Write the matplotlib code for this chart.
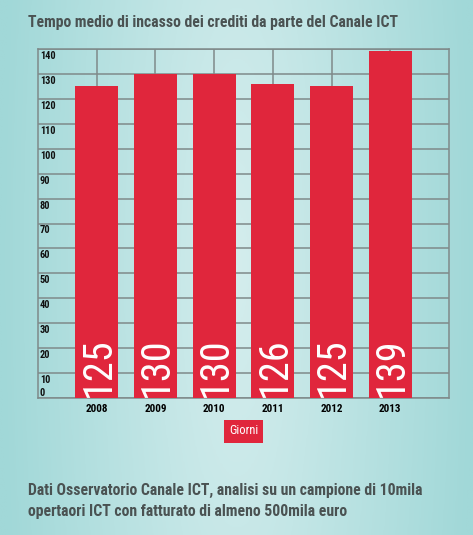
import numpy as np
import matplotlib
matplotlib.use("Agg")
import matplotlib.pyplot as plt
from matplotlib.colors import LinearSegmentedColormap

years = ["2008", "2009", "2010", "2011", "2012", "2013"]
giorni = [125, 130, 130, 126, 125, 139]
grid_values = list(range(0, 150, 10))
tick_labels = [str(v) for v in grid_values]

title = "Tempo medio di incasso dei crediti da parte del Canale ICT"
footer = ("Dati Osservatorio Canale ICT, analisi su un campione di 10mila\n"
          "opertaori ICT con fatturato di almeno 500mila euro")

cond = ["Roboto Condensed", "Liberation Sans Narrow", "DejaVu Sans"]

W, H = 473, 535
fig = plt.figure(figsize=(W / 100, H / 100), dpi=100)

# background gradient, light in the middle, teal at the sides
bg = fig.add_axes([0, 0, 1, 1])
bg.set_axis_off()
xx = np.linspace(-1, 1, 400)
yy = np.linspace(-1, 1, 400)
X, Y = np.meshgrid(xx, yy)
r = np.sqrt(X**2 + 0.06 * Y**2)
cmap = LinearSegmentedColormap.from_list("bg", ["#d4eded", "#a1d8d8"])
bg.imshow(r, cmap=cmap, aspect="auto", extent=[0, 1, 0, 1], vmin=0, vmax=1.0)
bg.set_xlim(0, 1)
bg.set_ylim(0, 1)

# chart axes: x 38..449 px, y 49..398 px
ax = fig.add_axes([38 / W, 1 - 398 / H, (449 - 38) / W, (398 - 49) / H])
ax.patch.set_alpha(0)
x = np.arange(len(years))
ax.bar(x, giorni, width=0.73, color="#e0263c", zorder=3)
ax.set_xlim(-1, 6)
ax.set_ylim(0, 140)

ax.set_yticks(grid_values)
ax.set_yticklabels([])
ax.set_xticks(x)
ax.set_xticklabels(years, fontfamily=cond, fontweight="bold", fontsize=8)
ax.tick_params(axis="both", length=0)
ax.tick_params(axis="x", pad=4)
ax.grid(True, color="#7f8a8a", linewidth=1.1, zorder=0)
for s in ax.spines.values():
    s.set_color("#7f8a8a")
    s.set_linewidth(1.1)

# y labels sit inside the bands just below each gridline
for v, lab in zip(grid_values, tick_labels):
    yl = v - 2.8 if v > 0 else 2.0
    ax.text(-0.97, yl, lab, ha="left", va="center", fontsize=7.5,
            fontfamily=cond, fontweight="bold", color="#111111", zorder=4)

# values written vertically at the foot of the bars
for xi, v in zip(x, giorni):
    ax.text(xi + 0.02, 0.6, str(v), rotation=90, ha="center", va="bottom",
            color="white", fontsize=29, fontfamily=cond, fontweight="normal",
            zorder=5)

fig.text(28 / W, 1 - 22 / H, title, ha="left", va="center", fontsize=11.3,
         fontfamily=cond, fontweight="bold", color="#4a5252")

fig.text(243.5 / W, 1 - 431 / H, "Giorni", ha="center", va="center",
         fontsize=9, fontfamily=cond, color="white",
         bbox=dict(boxstyle="square,pad=0.4", facecolor="#e0263c",
                   edgecolor="none"))

fig.text(28 / W, 1 - 501 / H, footer, ha="left", va="center", fontsize=11.3,
         fontfamily=cond, fontweight="bold", color="#4a5252", linespacing=1.45)

fig.savefig("out.png", dpi=100)
